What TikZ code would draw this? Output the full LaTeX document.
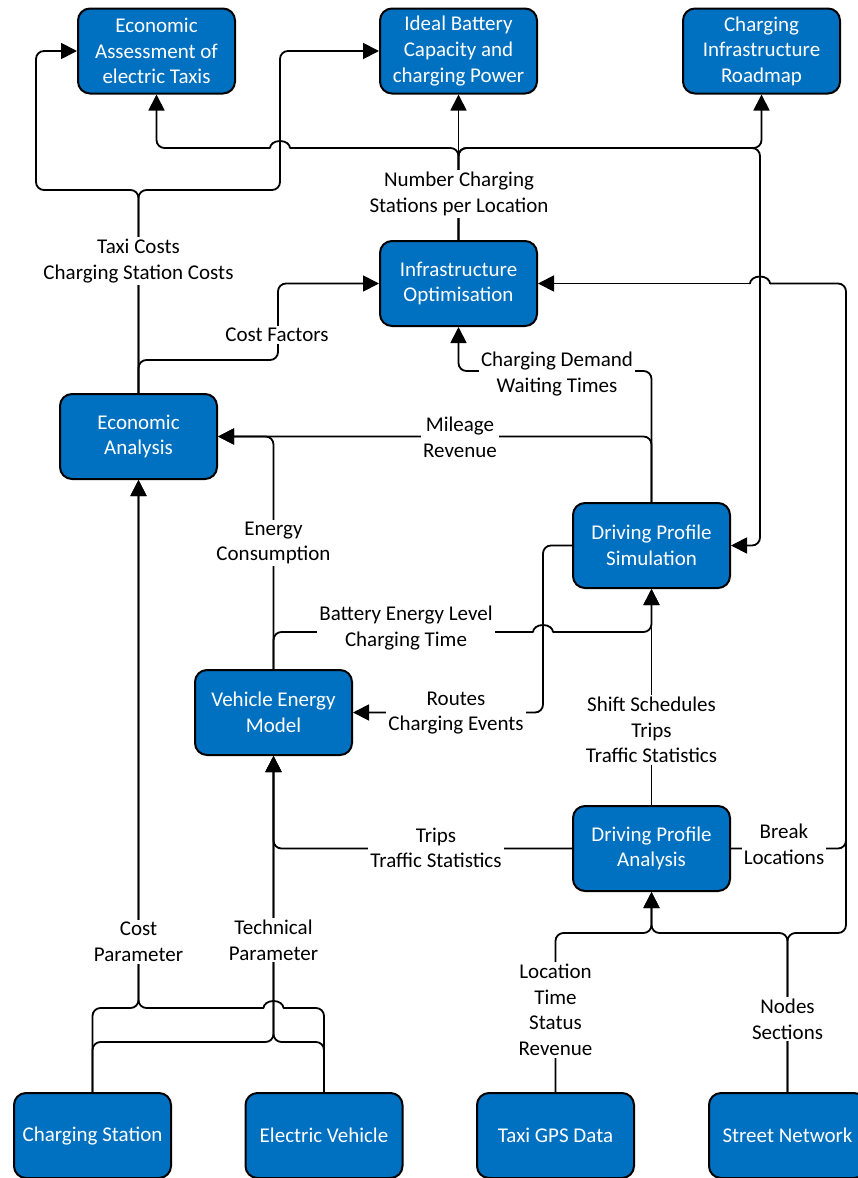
\documentclass[tikz,border=0pt]{standalone}
\usepackage{fontspec}
\setmainfont{Carlito}
\usetikzlibrary{arrows.meta}
\definecolor{boxblue}{RGB}{0,112,192}
\begin{document}
\begin{tikzpicture}[x=1pt,y=-1pt,
  blk/.style={draw=black, line width=2pt, fill=boxblue, rounded corners=12pt,
    minimum width=157pt, minimum height=85pt, text=white, align=center,
    font=\fontsize{21}{25.6}\selectfont, inner sep=0pt},
  lbl/.style={fill=white, inner sep=2pt, align=center,
    font=\fontsize{21}{25.6}\selectfont},
  conn/.style={line width=1.8pt, rounded corners=8pt, line join=round},
  arr/.style={conn, -{Triangle[length=16pt,width=16pt]}},
  hop/.style={line width=1.8pt, line cap=round},
]
\useasboundingbox (0,0) rectangle (858,1178);

% process boxes
\node[blk] (ea)  at (156.5,51)    {Economic\\Assessment of\\electric Taxis};
\node[blk] (ib)  at (458.5,51)    {Ideal Battery\\Capacity and\\charging Power};
\node[blk] (cr)  at (761.5,51)    {Charging\\Infrastructure\\Roadmap};
\node[blk] (io)  at (458.5,283.5) {Infrastructure\\Optimisation};
\node[blk] (ean) at (138.5,436.5) {Economic\\Analysis};
\node[blk] (dps) at (651.5,545.5) {Driving Profile\\Simulation};
\node[blk] (vem) at (273.5,712.5) {Vehicle Energy\\Model};
\node[blk] (dpa) at (651.5,848.5) {Driving Profile\\Analysis};
\node[blk] (cs)  at (92.5,1135.5) {Charging Station};
\node[blk] (ev)  at (324,1135.5)  {Electric Vehicle};
\node[blk] (gps) at (555.5,1135.5){Taxi GPS Data};
\node[blk] (sn)  at (787.5,1135.5){Street Network};

% outputs of the economic analysis
\draw[arr] (ean.north) -- (138.5,190) -- (36,190) -- (36,51) -- (ea.west);
\draw[arr] (ean.north) -- (138.5,190) -- (280,190) -- (280,51) -- (ib.west);
\draw[arr] (ean.north) -- (138.5,360) -- (278,360) -- (278,283.5) -- (io.west);

% number of charging stations per location (hop over x=280)
\draw[arr] (io.north) -- (ib.south);
\draw[conn] (io.north) -- (458.5,148) -- (290,148);
\draw[hop] (290,148) arc[start angle=0,end angle=180,x radius=10pt,y radius=7pt];
\draw[arr] (270,148) -- (156.5,148) -- (ea.south);
\draw[arr] (io.north) -- (458.5,148) -- (761.5,148) -- (cr.south);
\draw[arr] (io.north) -- (458.5,148) -- (760,148) -- (760,545.5) -- (dps.east);

% street network and break locations into the optimisation (hop over x=760)
\draw[conn] (sn.north) -- (787.5,933) -- (846,933) -- (846,283.5) -- (770,283.5);
\draw[conn] (dpa.east) -- (846,848.5) -- (846,700);
\draw[hop] (770,283.5) arc[start angle=0,end angle=180,x radius=10pt,y radius=7pt];
\draw[arr] (750,283.5) -- (io.east);

% inputs of the driving profile analysis
\draw[arr] (sn.north) -- (787.5,933) -- (651.5,933) -- (dpa.south);
\draw[arr] (gps.north) -- (555.5,933) -- (651.5,933) -- (dpa.south);
\draw[arr] (dpa.north) -- (dps.south);
\draw[arr] (dpa.west) -- (273.5,848.5) -- (vem.south);

% parameters of charging station and vehicle (hop over x=273.5)
\draw[arr] (cs.north) -- (92.5,1008) -- (138.5,1008) -- (ean.south);
\draw[conn] (ev.north) -- (324,1008) -- (283.5,1008);
\draw[hop] (283.5,1008) arc[start angle=0,end angle=180,x radius=10pt,y radius=7pt];
\draw[arr] (263.5,1008) -- (138.5,1008) -- (ean.south);
\draw[arr] (cs.north) -- (92.5,1042) -- (273.5,1042) -- (vem.south);
\draw[arr] (ev.north) -- (324,1042) -- (273.5,1042) -- (vem.south);

% outputs of the vehicle energy model (hop over x=543)
\draw[arr] (vem.north) -- (273.5,436.5) -- (ean.east);
\draw[conn] (vem.north) -- (273.5,632) -- (533,632);
\draw[hop] (533,632) arc[start angle=180,end angle=0,x radius=10pt,y radius=7pt];
\draw[arr] (553,632) -- (651.5,632) -- (dps.south);

% outputs of the driving profile simulation
\draw[arr] (dps.north) -- (651.5,371) -- (458.5,371) -- (io.south);
\draw[arr] (dps.north) -- (651.5,436.5) -- (ean.east);
\draw[arr] (dps.west) -- (543,545.5) -- (543,712.5) -- (vem.east);

% connector labels
\node[lbl] (tnum)  at (459,194)   {Number Charging\\Stations per Location};
\node[lbl] (tcost) at (138.5,261) {Taxi Costs\\Charging Station Costs};
\node[lbl] (tcf)   at (277,335)   {Cost Factors};
\node[lbl] (tcd)   at (557,374)   {Charging Demand\\Waiting Times};
\node[lbl] (tmil)  at (460,437)   {Mileage\\Revenue};
\node[lbl] (tec)   at (273.5,543) {Energy\\Consumption};
\node[lbl] (tbat)  at (406,628)   {Battery Energy Level\\Charging Time};
\node[lbl] (trte)  at (456,713)   {Routes\\Charging Events};
\node[lbl] (tss)   at (651.5,730) {Shift Schedules\\Trips\\Traffic Statistics};
\node[lbl] (ttr)   at (436,848)   {Trips\\Traffic Statistics};
\node[lbl] (tbrk)  at (784,844)   {Break\\Locations};
\node[lbl] (tcp)   at (138.5,942) {Cost\\Parameter};
\node[lbl] (ttp)   at (273.5,940) {Technical\\Parameter};
\node[lbl] (tgps)  at (555.5,1010){Location\\Time\\Status\\Revenue};
\node[lbl] (tsn)   at (787.5,1019){Nodes\\Sections};
\end{tikzpicture}
\end{document}
